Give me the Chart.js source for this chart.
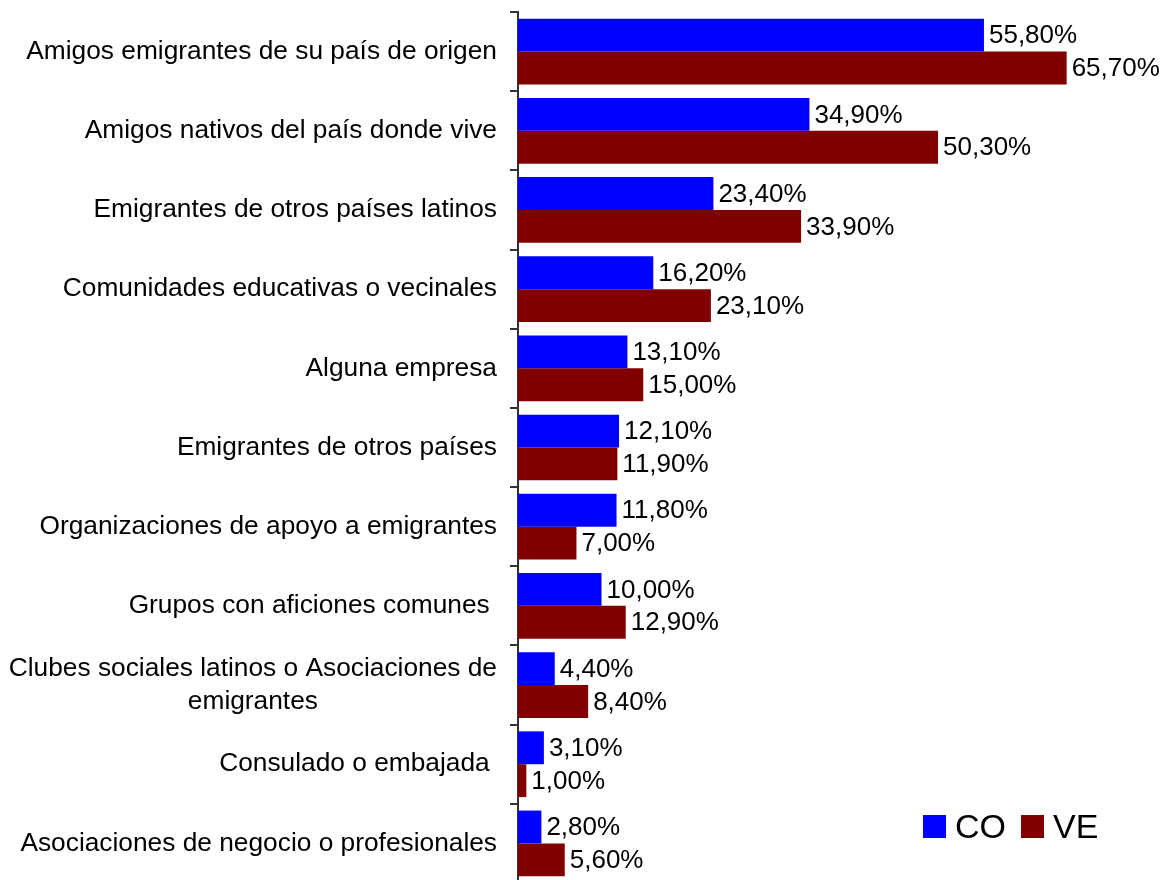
<!DOCTYPE html>
<html>
<head>
<meta charset="utf-8">
<script src="https://cdn.jsdelivr.net/npm/chart.js@4.4.1/dist/chart.umd.min.js"></script>
<style>
  body { margin: 0; background: #fff; overflow: hidden; }
  #wrap { position: relative; width: 1161px; height: 880px; overflow: hidden; }
  #legend { position: absolute; left: 923px; top: 807px; display: flex; align-items: center;
            font-family: "Liberation Sans", Arial, sans-serif; font-size: 34px; color: #000; }
  #legend .sw { width: 23px; height: 23px; display: inline-block; margin-right: 9px; }
  #legend .item { display: flex; align-items: center; margin-right: 15px; }
</style>
</head>
<body>
<div id="wrap">
  <canvas id="c" width="1161" height="883"></canvas>
  <div id="legend">
    <span class="item"><span class="sw" style="background:#0000ff"></span>CO</span>
    <span class="item"><span class="sw" style="background:#800000"></span>VE</span>
  </div>
</div>
<script>
// categories, top to bottom
var categories = [
    'Amigos emigrantes de su país de origen',
    'Amigos nativos del país donde vive',
    'Emigrantes de otros países latinos',
    'Comunidades educativas o vecinales',
    'Alguna empresa',
    'Emigrantes de otros países',
    'Organizaciones de apoyo a emigrantes',
    'Grupos con aficiones comunes ',
    ['Clubes sociales latinos o Asociaciones de', 'emigrantes'],
    'Consulado o embajada ',
    'Asociaciones de negocio o profesionales'
];
var seriesNames = ['CO', 'VE'];
var coValues = [55.8, 34.9, 23.4, 16.2, 13.1, 12.1, 11.8, 10.0, 4.4, 3.1, 2.8];
var veValues = [65.7, 50.3, 33.9, 23.1, 15.0, 11.9, 7.0, 12.9, 8.4, 1.0, 5.6];

var FONT = '"Liberation Sans", Arial, sans-serif';

// category labels: single lines right aligned, wrapped ones centred
var catLabels = {
    id: 'catLabels',
    afterDraw: function(chart) {
        var ctx = chart.ctx;
        var yScale = chart.scales.y;
        var rightX = 497;
        ctx.save();
        ctx.font = '26.3px ' + FONT;
        ctx.fillStyle = '#000';
        ctx.textBaseline = 'middle';
        categories.forEach(function(lab, i) {
            var y = yScale.getPixelForValue(i);
            if (Array.isArray(lab)) {
                var w = Math.max.apply(null, lab.map(function(s) { return ctx.measureText(s).width; }));
                var cx = rightX - w / 2;
                var lh = 33;
                ctx.textAlign = 'center';
                lab.forEach(function(s, k) {
                    ctx.fillText(s, cx, y + (k - (lab.length - 1) / 2) * lh);
                });
            } else {
                ctx.textAlign = 'right';
                ctx.fillText(lab, rightX, y);
            }
        });
        ctx.restore();
    }
};

// value labels at the end of each bar
var valueLabels = {
    id: 'valueLabels',
    afterDatasetsDraw: function(chart) {
        var ctx = chart.ctx;
        ctx.save();
        ctx.font = '26px ' + FONT;
        ctx.fillStyle = '#000';
        ctx.textAlign = 'left';
        ctx.textBaseline = 'middle';
        chart.data.datasets.forEach(function(ds, di) {
            chart.getDatasetMeta(di).data.forEach(function(bar, i) {
                var txt = ds.data[i].toFixed(2).replace('.', ',') + '%';
                ctx.fillText(txt, bar.x + 5, bar.y + 1);
            });
        });
        ctx.restore();
    }
};

new Chart(document.getElementById('c').getContext('2d'), {
    type: 'bar',
    data: {
        labels: categories,
        datasets: [
            { label: seriesNames[0], data: coValues, backgroundColor: '#0000ff',
              categoryPercentage: 0.83, barPercentage: 1.0 },
            { label: seriesNames[1], data: veValues, backgroundColor: '#800000',
              categoryPercentage: 0.83, barPercentage: 1.0 }
        ]
    },
    options: {
        indexAxis: 'y',
        responsive: false,
        animation: false,
        layout: { padding: { top: 12, bottom: 0, left: 0, right: 0 } },
        plugins: {
            legend: { display: false },
            tooltip: { enabled: false }
        },
        scales: {
            x: {
                display: false,
                min: 0,
                max: 77
            },
            y: {
                ticks: { display: false },
                grid: { drawOnChartArea: false, tickLength: 8, color: '#333', lineWidth: 2 },
                border: { color: '#333', width: 2 },
                afterFit: function(scale) { scale.width = 518; }
            }
        }
    },
    plugins: [catLabels, valueLabels]
});
</script>
</body>
</html>
